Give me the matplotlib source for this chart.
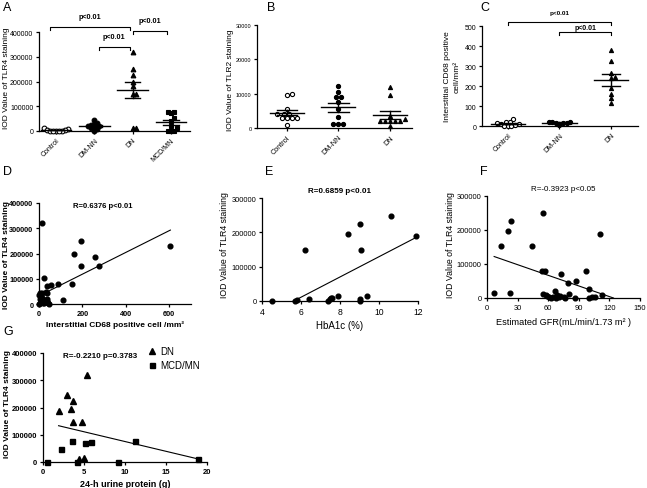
import numpy as np
import matplotlib
matplotlib.use("Agg")
import matplotlib.pyplot as plt

plt.rcParams['font.family'] = ['Liberation Sans', 'DejaVu Sans']

# ---------------- data ----------------
A_groups = ["Control", "DM-NN", "DN", "MCD/MN"]
A_control = [11000, 8000, 5000, 3000, 2000, 1500, 1000, 1000, 1000]
A_dmnn = [45000, 32000, 28000, 24000, 21000, 19000, 15000, 11000, 8000, 1000]
A_dn = [320000, 249000, 225000, 196000, 180000, 149000, 149000, 11000, 11000]
A_mcd = [77000, 75000, 72000, 51000, 41000, 21000, 11000, 1000, 1000, 1000]
A_pvals = ["p<0.01", "p<0.01", "p<0.01"]

B_groups = ["Control", "DM-NN", "DN"]
B_control = [9900, 9600, 5500, 4100, 4000, 4200, 2800, 2800, 2800, 2800, 1000]
B_dmnn = [12300, 10600, 8900, 8900, 7500, 5500, 3100, 1200, 1200, 1200]
B_dn = [12000, 9500, 3500, 2500, 2000, 2000, 2000, 2000, 2000, 500]

C_groups = ["Control", "DM-NN", "DN"]
C_control = [33, 20, 18, 15, 10, 8, 3, 2, 2, 2]
C_dmnn = [22, 18, 18, 17, 16, 15, 5]
C_dn = [382, 323, 263, 247, 240, 188, 160, 138, 115]
C_pvals = ["p<0.01", "p<0.01"]

D_x = [15, 192, 160, 258, 192, 276, 605, 22, 88, 55, 152, 37, 32, 35, 112,
       5, 10, 15, 8, 3, 12, 18, 25, 30, 35, 40, 45, 5, 2, 20, 28, 38, 0]
D_y = [322000, 250000, 197000, 188000, 152000, 152000, 228000, 103000, 79000,
       76000, 79000, 70000, 49000, 45000, 17000,
       45000, 40000, 42000, 30000, 20000, 22000, 10000, 5000, 15000, 20000,
       3000, 0, 5000, 0, 2000, 8000, 10000, 35000]
D_fit = (431.0, 32000.0)      # slope, intercept
D_fit_x = [0, 605]
D_text = "R=0.6376 p<0.01"

E_x = [4.5, 5.7, 5.8, 6.2, 6.4, 7.4, 7.5, 7.6, 7.9, 8.4, 9.0, 9.0, 9.0, 9.1,
       9.4, 10.6, 11.9, 7.55]
E_y = [0, 0, 2000, 150000, 6000, 0, 5000, 9000, 15000, 195000, 225000, 7000,
       0, 150000, 15000, 248000, 188000, 8000]
E_fit = (29500.0, -166000.0)
E_fit_x = [4.5, 11.9]
E_text = "R=0.6859 p<0.01"

F_x = [7, 14, 21, 24, 23, 44, 55, 111, 54, 57, 73, 97, 79, 87, 100, 55, 59,
       61, 63, 65, 67, 69, 71, 75, 80, 86, 100, 103, 106, 113, 58, 68, 76, 72]
F_y = [16000, 152000, 197000, 226000, 16000, 152000, 250000, 189000, 79000,
       79000, 70000, 79000, 45000, 50000, 27000, 13000, 5000, 2000, 0, 2000,
       20000, 8000, 2000, 2000, 13000, 0, 0, 2000, 2000, 8000, 10000, 0, 0, 5000]
F_fit = (-1043.0, 129300.0)
F_fit_x = [7, 124]
F_text = "R=-0.3923 p<0.05"

G_dn_x = [5.4, 2.9, 3.6, 1.95, 3.4, 3.7, 4.7, 4.4, 5.0]
G_dn_y = [320000, 246000, 223000, 186000, 193000, 148000, 148000, 12000, 16000]
G_mcd_x = [0.45, 2.15, 3.55, 4.1, 5.1, 5.85, 9.1, 11.2, 18.9]
G_mcd_y = [1000, 49000, 78000, 0, 70000, 75000, 0, 78000, 11000]
G_fit = (-7170.0, 146800.0)
G_fit_x = [1.9, 18.9]
G_text = "R=-0.2210 p=0.3783"
G_legend = ["DN", "MCD/MN"]

# ---------------- layout helpers ----------------
W, H = 647, 489
fig = plt.figure(figsize=(W / 100, H / 100), dpi=100)
BOX = {}


def add_ax(l, t, r, b):
    ax = fig.add_axes([l / W, 1 - b / H, (r - l) / W, (b - t) / H])
    BOX[ax] = (l, t, r, b)
    return ax


def ylabel_at(ax, text, px, py, **kw):
    # px is the right edge of the rotated label
    l, t, r, b = BOX[ax]
    ax.set_ylabel(text, **kw)
    ax.yaxis.set_label_coords((px - l) / (r - l), (b - py) / (b - t))


def style(ax, fs, bold=False):
    for s in ("top", "right"):
        ax.spines[s].set_visible(False)
    for s in ("left", "bottom"):
        ax.spines[s].set_linewidth(0.9)
    ax.tick_params(direction="out", length=2.5, width=0.9, labelsize=fs, pad=1.5)
    if bold:
        for lab in ax.get_xticklabels() + ax.get_yticklabels():
            lab.set_fontweight("bold")


def swarm(ax, xc, ys, d_px):
    ys = np.asarray(ys, float)
    disp = ax.transData.transform(np.column_stack([np.full(len(ys), xc, float), ys]))
    order = np.argsort(disp[:, 1])
    placed = []
    xs = np.zeros(len(ys))
    for i in order:
        px, py = disp[i]
        best = None
        for k in range(0, 60):
            for sgn in ([0] if k == 0 else [1, -1]):
                cand = px + sgn * k * d_px * 0.5
                if all((cand - qx) ** 2 + (py - qy) ** 2 >= d_px ** 2 * 0.999 for qx, qy in placed):
                    best = cand
                    break
            if best is not None:
                break
        placed.append((best, py))
        xs[i] = best
    inv = ax.transData.inverted().transform(np.column_stack([xs, disp[:, 1]]))
    return inv[:, 0]


def group_panel(ax, groups_data, markers, fills, ms, d_px, mw, cw):
    for i, (vals, mk, fill) in enumerate(zip(groups_data, markers, fills)):
        xs = swarm(ax, i, vals, d_px)
        ax.plot(xs, vals, linestyle="none", marker=mk, ms=ms,
                mfc="black" if fill else "white", mec="black", mew=0.8,
                clip_on=False, zorder=3)
        v = np.asarray(vals, float)
        m = v.mean()
        sem = v.std(ddof=1) / np.sqrt(len(v))
        ax.plot([i - mw, i + mw], [m, m], color="black", lw=1.0, zorder=4, clip_on=False)
        ax.plot([i, i], [m - sem, m + sem], color="black", lw=1.0, zorder=4, clip_on=False)
        for yy in (m - sem, m + sem):
            ax.plot([i - cw, i + cw], [yy, yy], color="black", lw=1.0, zorder=4, clip_on=False)


def bracket(ax, x1, x2, y, drop, text, ty, fs):
    ax.plot([x1, x1, x2, x2], [y - drop, y, y, y - drop], color="black", lw=0.8,
            clip_on=False)
    ax.text((x1 + x2) / 2, ty, text, ha="center", va="center", fontsize=fs,
            fontweight="bold")


def fitline(ax, fit, xr):
    xx = np.array(xr, float)
    ax.plot(xx, fit[0] * xx + fit[1], color="black", lw=0.8, zorder=2)


# ---------------- Panel A ----------------
axA = add_ax(39, 33, 190, 132)
axA.set_xlim(-0.45, 3.5)
axA.set_ylim(0, 400000)
axA.set_yticks([0, 100000, 200000, 300000, 400000])
axA.set_xticks(range(4))
axA.set_xticklabels(A_groups, rotation=45, ha="right", rotation_mode="anchor")
style(axA, 5.0)
ylabel_at(axA, "IOD Value of TLR4 staining", 10, 78, fontsize=6)
group_panel(axA, [A_control, A_dmnn, A_dn, A_mcd], ["o", "o", "^", "s"],
            [False, True, True, True], 3.4, 3.0, 0.4, 0.2)
bracket(axA, -0.15, 1.92, 420000, 12000, A_pvals[0], 461000, 5.2)
bracket(axA, 1.12, 1.92, 339000, 12000, A_pvals[1], 380000, 5.2)
bracket(axA, 2.02, 2.9, 404000, 12000, A_pvals[2], 448000, 5.2)

# ---------------- Panel B ----------------
axB = add_ax(257, 26, 412, 129)
axB.set_xlim(-0.58, 2.43)
axB.set_ylim(0, 30000)
axB.set_yticks([0, 10000, 20000, 30000])
axB.set_xticks(range(3))
axB.set_xticklabels(B_groups, rotation=45, ha="right", rotation_mode="anchor")
style(axB, 4.0)
axB.tick_params(axis="x", labelsize=5.2)
ylabel_at(axB, "IOD Value of TLR2 staining", 234, 80, fontsize=6)
group_panel(axB, [B_control, B_dmnn, B_dn], ["o", "o", "^"],
            [False, True, True], 3.0, 5.0, 0.33, 0.2)

# ---------------- Panel C ----------------
axC = add_ax(482, 27, 638, 127)
axC.set_xlim(-0.5, 2.52)
axC.set_ylim(0, 500)
axC.set_yticks([0, 100, 200, 300, 400, 500])
axC.set_xticks(range(3))
axC.set_xticklabels(C_groups, rotation=45, ha="right", rotation_mode="anchor")
style(axC, 5.0)
ylabel_at(axC, "Interstitial CD68 positive\ncell/mm\u00b2", 461, 77, fontsize=6,
          linespacing=1.6)
group_panel(axC, [C_control, C_dmnn, C_dn], ["o", "o", "^"],
            [False, True, True], 3.0, 3.6, 0.33, 0.17)
bracket(axC, 0.0, 2.0, 518, 12, C_pvals[0], 565, 4.6)
bracket(axC, 1.0, 2.0, 468, 12, C_pvals[1], 493, 5.0)

# ---------------- Panel D ----------------
axD = add_ax(39, 204, 191, 305)
axD.set_xlim(0, 700)
axD.set_ylim(0, 400000)
axD.set_xticks([0, 200, 400, 600])
axD.set_yticks([0, 100000, 200000, 300000, 400000])
axD.plot(D_x, D_y, linestyle="none", marker="o", ms=3.4, color="black",
         clip_on=False, zorder=3)
fitline(axD, D_fit, D_fit_x)
style(axD, 5.3, bold=True)
ylabel_at(axD, "IOD Value of TLR4 staining", 10, 255, fontsize=6, fontweight="bold")
axD.set_xlabel("Interstitial CD68 positive cell /mm\u00b2", fontsize=6,
               fontweight="bold", labelpad=3)
axD.text(0.42, 0.98, D_text, transform=axD.transAxes, ha="center", va="center",
         fontsize=5.5, fontweight="bold")

# ---------------- Panel E ----------------
axE = add_ax(262, 199, 418, 302)
axE.set_xlim(4, 12)
axE.set_ylim(0, 300000)
axE.set_xticks([4, 6, 8, 10, 12])
axE.set_yticks([0, 100000, 200000, 300000])
axE.plot(E_x, E_y, linestyle="none", marker="o", ms=3.4, color="black",
         clip_on=False, zorder=3)
fitline(axE, E_fit, E_fit_x)
style(axE, 5.4)
axE.tick_params(axis="x", labelsize=6.2)
ylabel_at(axE, "IOD Value of TLR4 staining", 229, 245, fontsize=6.3)
axE.set_xlabel("HbA1c (%)", fontsize=7, labelpad=3)
axE.set_title(E_text, fontsize=5.8, fontweight="bold", pad=4)

# ---------------- Panel F ----------------
axF = add_ax(487, 197, 640, 299)
axF.set_xlim(0, 150)
axF.set_ylim(0, 300000)
axF.set_xticks([0, 30, 60, 90, 120, 150])
axF.set_yticks([0, 100000, 200000, 300000])
axF.plot(F_x, F_y, linestyle="none", marker="o", ms=3.4, color="black",
         clip_on=False, zorder=3)
fitline(axF, F_fit, F_fit_x)
style(axF, 5.4)
ylabel_at(axF, "IOD Value of TLR4 staining", 455, 245, fontsize=6.3)
axF.set_xlabel("Estimated GFR(mL/min/1.73 m\u00b2 )", fontsize=6.6, labelpad=5)
axF.set_title(F_text, fontsize=5.8, pad=4)

# ---------------- Panel G ----------------
axG = add_ax(43, 354, 207, 463)
axG.set_xlim(0, 20)
axG.set_ylim(0, 400000)
axG.set_xticks([0, 5, 10, 15, 20])
axG.set_yticks([0, 100000, 200000, 300000, 400000])
axG.plot(G_dn_x, G_dn_y, linestyle="none", marker="^", ms=3.8, color="black",
         clip_on=False, zorder=3, label=G_legend[0])
axG.plot(G_mcd_x, G_mcd_y, linestyle="none", marker="s", ms=3.6, color="black",
         clip_on=False, zorder=3, label=G_legend[1])
fitline(axG, G_fit, G_fit_x)
style(axG, 5.5, bold=True)
ylabel_at(axG, "IOD Value of TLR4 staining", 11, 404, fontsize=6, fontweight="bold")
axG.set_xlabel("24-h urine protein (g)", fontsize=6.5, fontweight="bold", labelpad=3)
axG.text(0.35, 0.98, G_text, transform=axG.transAxes, ha="center", va="center",
         fontsize=5.8, fontweight="bold")
axG.legend(loc="upper left", bbox_to_anchor=((147 - 43) / 164, (463 - 347) / 109),
           frameon=False, fontsize=7, handletextpad=0.4, labelspacing=0.45,
           handlelength=1.0, borderaxespad=0, borderpad=0)

# ---------------- panel letters ----------------
for lab, (px, py) in {"A": (3, 8), "B": (267, 8), "C": (480, 8), "D": (3, 172),
                      "E": (265, 172), "F": (480, 172), "G": (3, 332)}.items():
    fig.text(px / W, 1 - py / H, lab, fontsize=9, ha="left", va="center")

fig.savefig("out.png", dpi=100)
